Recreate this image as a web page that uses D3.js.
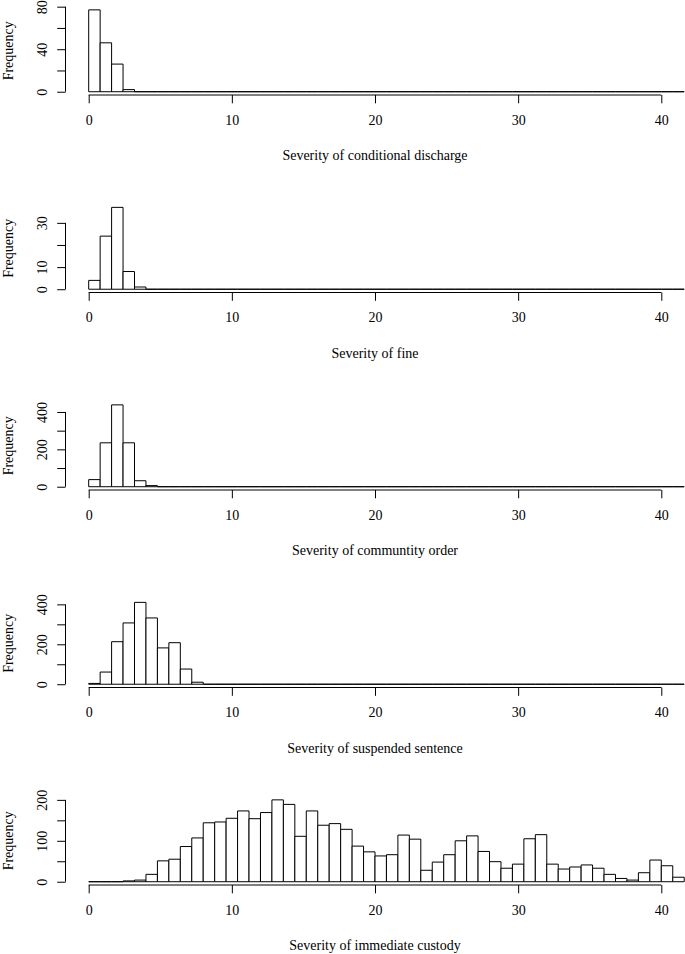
<!DOCTYPE html>
<html>
<head>
<meta charset="utf-8">
<script src="https://cdn.jsdelivr.net/npm/d3@7.9.0/dist/d3.min.js"></script>
<style>
  body { margin: 0; background: #fff; }
  svg { display: block; }
</style>
</head>
<body>
<svg id="chart" width="685" height="954"></svg>
<script>
// bin width of the histograms (52 bins from 0 to 41.6)
const binWidth = 0.8;
const xTicks = [0, 10, 20, 30, 40];

// counts per bin
const dischargeCounts = [77, 46, 26, 2, 0, 0, 0, 0, 0, 0, 0, 0, 0, 0, 0, 0, 0, 0, 0, 0, 0, 0, 0, 0, 0, 0,
  0, 0, 0, 0, 0, 0, 0, 0, 0, 0, 0, 0, 0, 0, 0, 0, 0, 0, 0, 0, 0, 0, 0, 0, 0, 0];
const fineCounts = [4, 24, 37, 8, 1, 0, 0, 0, 0, 0, 0, 0, 0, 0, 0, 0, 0, 0, 0, 0, 0, 0, 0, 0, 0, 0,
  0, 0, 0, 0, 0, 0, 0, 0, 0, 0, 0, 0, 0, 0, 0, 0, 0, 0, 0, 0, 0, 0, 0, 0, 0, 0];
const communityCounts = [38, 235, 438, 235, 32, 6, 0, 0, 0, 0, 0, 0, 0, 0, 0, 0, 0, 0, 0, 0, 0, 0, 0, 0, 0, 0,
  0, 0, 0, 0, 0, 0, 0, 0, 0, 0, 0, 0, 0, 0, 0, 0, 0, 0, 0, 0, 0, 0, 0, 0, 0, 0];
const suspendedCounts = [4, 61, 213, 307, 410, 332, 182, 208, 76, 10, 0, 0, 0, 0, 0, 0, 0, 0, 0, 0, 0, 0, 0, 0, 0, 0,
  0, 0, 0, 0, 0, 0, 0, 0, 0, 0, 0, 0, 0, 0, 0, 0, 0, 0, 0, 0, 0, 0, 0, 0, 0, 0];
const custodyCounts = [0, 0, 0, 2, 4, 18, 51, 55, 86, 107, 144, 146, 155, 173, 154, 169, 200, 189, 111, 173,
  138, 142, 128, 87, 73, 63, 66, 114, 104, 28, 48, 66, 100, 112, 74, 49, 33, 43, 105, 115,
  43, 31, 36, 41, 33, 18, 8, 4, 22, 53, 39, 11];

const titles = [
  "Severity of conditional discharge",
  "Severity of fine",
  "Severity of communtity order",
  "Severity of suspended sentence",
  "Severity of immediate custody"
];
const yTicks = [
  [0, 20, 40, 60, 80],
  [0, 10, 20, 30],
  [0, 100, 200, 300, 400],
  [0, 100, 200, 300, 400],
  [0, 50, 100, 150, 200]
];
const yLabels = [
  [0, 40, 80],
  [0, 10, 30],
  [0, 200, 400],
  [0, 200, 400],
  [0, 100, 200]
];
const allCounts = [dischargeCounts, fineCounts, communityCounts, suspendedCounts, custodyCounts];

// layout
const font = "Liberation Serif, Times New Roman, serif";
const plotLeft = 65.5, plotRight = 684.5;
const firstBottom = 95, panelStep = 197.5, plotHeight = 88.4;

const svg = d3.select("#chart");
const x = d3.scaleLinear().domain([0, 40]).range([88.7, 661.3]);

allCounts.forEach((counts, i) => {
  const bottom = firstBottom + i * panelStep;
  const maxCount = d3.max(counts);
  const y = d3.scaleLinear()
    .domain([-0.04 * maxCount, 1.04 * maxCount])
    .range([bottom, bottom - plotHeight]);

  const g = svg.append("g");

  // bars (zero-height ones still leave a line)
  g.selectAll("path.bar")
    .data(counts)
    .join("path")
    .attr("class", "bar")
    .attr("d", (c, j) => {
      const x0 = x(j * binWidth), x1 = x((j + 1) * binWidth);
      return `M${x0},${y(0)}H${x1}V${y(c)}H${x0}Z`;
    })
    .attr("fill", "#fff")
    .attr("stroke", "#000")
    .attr("stroke-width", 1);

  // x axis
  const xAxis = g.append("g")
    .attr("transform", `translate(0,${bottom})`)
    .call(d3.axisBottom(x).tickValues(xTicks).tickSize(8.3).tickPadding(11.7));
  xAxis.select(".domain").remove();
  xAxis.append("line")
    .attr("x1", x(xTicks[0])).attr("x2", x(xTicks[xTicks.length - 1]))
    .attr("stroke", "#000");
  xAxis.selectAll("text")
    .attr("font-family", font).attr("font-size", 14).attr("fill", "#000");

  // y axis
  const ticks = yTicks[i], labels = yLabels[i];
  const yAxis = g.append("g")
    .attr("transform", `translate(${plotLeft},0)`)
    .call(d3.axisLeft(y).tickValues(ticks).tickSize(8.3)
      .tickFormat(d => labels.includes(d) ? d : ""));
  yAxis.select(".domain").remove();
  yAxis.append("line")
    .attr("y1", y(ticks[0])).attr("y2", y(ticks[ticks.length - 1]))
    .attr("stroke", "#000");
  yAxis.selectAll("text")
    .attr("x", null).attr("dy", null)
    .attr("text-anchor", "middle")
    .attr("transform", "translate(-18.8,0) rotate(-90)")
    .attr("font-family", font).attr("font-size", 14).attr("fill", "#000");

  // axis titles
  g.append("text")
    .attr("x", (plotLeft + plotRight) / 2)
    .attr("y", bottom + 65)
    .attr("text-anchor", "middle")
    .attr("font-family", font).attr("font-size", 14)
    .text(titles[i]);

  g.append("text")
    .attr("transform", `translate(12.5,${bottom - plotHeight / 2}) rotate(-90)`)
    .attr("text-anchor", "middle")
    .attr("font-family", font).attr("font-size", 14)
    .text("Frequency");
});
</script>
</body>
</html>
